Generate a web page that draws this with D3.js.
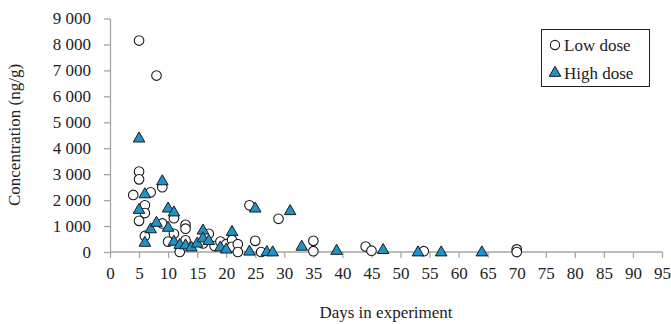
<!DOCTYPE html>
<html><head><meta charset="utf-8">
<script src="https://cdn.jsdelivr.net/npm/d3@7"></script>
<style>body{margin:0;background:#fff}svg{display:block}text{font-family:"Liberation Serif","Times New Roman",serif;fill:#222}</style>
</head><body>
<svg id="c" width="671" height="324"></svg>
<script>
const lowDays = [4,5,5,5,5,6,6,6,7,8,9,9,10,11,11,12,13,13,13,16,17,18,19,20,21,21,22,22,24,25,26,29,35,35,44,45,54,70,70];
const lowConc = [2200,8150,3100,2800,1200,1800,1500,620,2300,6800,2500,1100,400,1300,700,0,1050,900,450,330,700,230,400,300,460,200,300,0,1800,430,0,1280,430,30,210,50,30,100,0];
const highDays = [5,5,6,6,7,8,9,10,10,11,11,12,13,14,15,16,16,17,19,20,21,24,25,27,28,31,33,39,47,53,57,64];
const highConc = [4400,1650,2250,380,900,1150,2750,1700,960,1550,420,300,280,200,350,850,550,450,200,120,800,40,1700,20,10,1600,230,70,100,10,10,10];
const xTicks = d3.range(0, 96, 5);
const yTicks = d3.range(0, 9001, 1000);
const legendLabels = ["Low dose", "High dose"];

const svg = d3.select("#c");
const x = d3.scaleLinear().domain([0, 95]).range([110, 662]);
const y = d3.scaleLinear().domain([0, 9000]).range([252, 18.5]);
const axisColor = "#a6a6a6";
const fmt = v => d3.format(",")(v).replace(/,/g, "\u2009");

const ya = svg.append("g").attr("transform","translate(110,0)")
  .call(d3.axisLeft(y).tickValues(yTicks).tickSize(6).tickSizeOuter(0).tickPadding(13).tickFormat(v => d3.format(",")(v).replace(/,/g," ")));
const xa = svg.append("g").attr("transform","translate(0,252)")
  .call(d3.axisBottom(x).tickValues(xTicks).tickSize(6).tickSizeOuter(0).tickPadding(9).tickFormat(d3.format("d")));
[ya, xa].forEach(g => {
  g.selectAll("path,line").attr("stroke", axisColor).attr("stroke-width",1.3);
  g.selectAll("text").style("font-family","Liberation Serif").style("font-size","17px").attr("fill","#222");
});
xa.select(".domain").attr("d","M110,0H662");

svg.append("text").attr("x",386).attr("y",318).attr("text-anchor","middle").style("font-size","17px").text("Days in experiment");
svg.append("text").attr("transform","translate(20,135) rotate(-90)").attr("text-anchor","middle").style("font-size","17px").text("Concentration (ng/g)");

const tri = d3.symbol().type(d3.symbolTriangle).size(58);
const low = lowDays.map((d,i)=>({d, v: lowConc[i]}));
const high = highDays.map((d,i)=>({d, v: highConc[i]}));

svg.append("g").selectAll("circle").data(low).join("circle")
  .attr("cx", p => x(p.d)).attr("cy", p => y(p.v)).attr("r", 4.8)
  .attr("fill","#fff").attr("stroke","#1a1a1a").attr("stroke-width",1.1);
svg.append("g").selectAll("path").data(high).join("path")
  .attr("d", tri).attr("transform", p => `translate(${x(p.d)},${y(p.v)+0.8})`)
  .attr("fill","#1f93c8").attr("stroke","#1a1a1a").attr("stroke-width",1);

const lg = svg.append("g");
lg.append("rect").attr("x",541.5).attr("y",29.5).attr("width",108).attr("height",57)
  .attr("fill","#fff").attr("stroke","#222").attr("stroke-width",1);
lg.append("circle").attr("cx",555).attr("cy",45).attr("r",4.6).attr("fill","#fff").attr("stroke","#1a1a1a").attr("stroke-width",1.1);
lg.append("path").attr("d",tri).attr("transform","translate(555,73)").attr("fill","#1f93c8").attr("stroke","#1a1a1a");
lg.selectAll("text.l").data(legendLabels).join("text").attr("class","l")
  .attr("x",564).attr("y",(d,i)=>51+i*28).style("font-size","17px").text(d=>d);
</script>
</body></html>
